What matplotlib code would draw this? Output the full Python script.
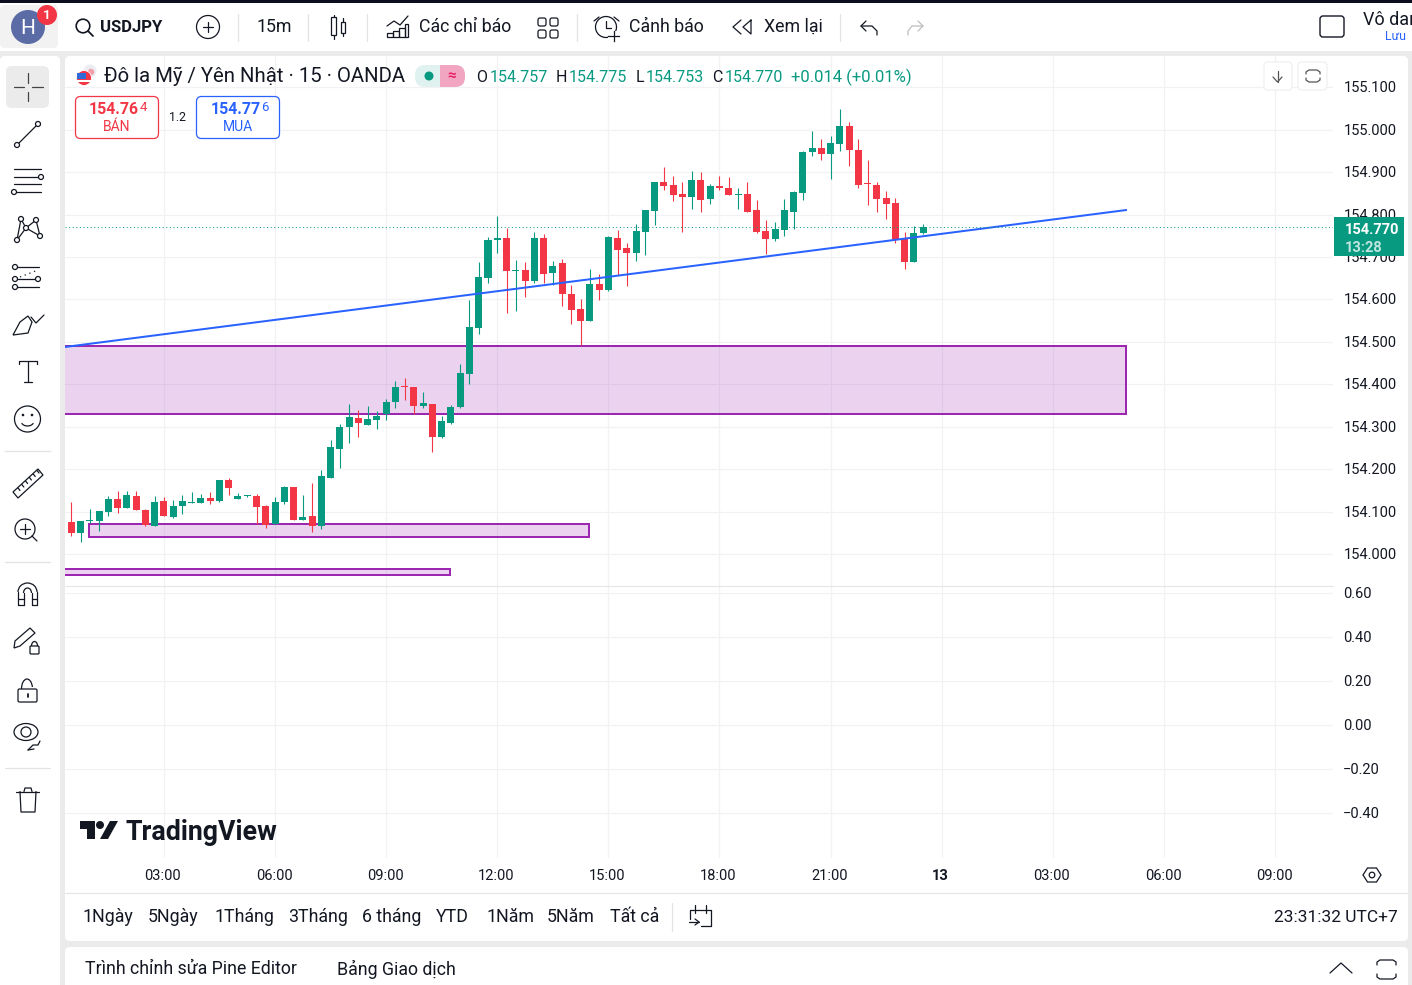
import matplotlib
matplotlib.use("Agg")
import matplotlib.pyplot as plt
from matplotlib.patches import Rectangle, FancyBboxPatch, Circle, Polygon, Ellipse, Arc
from matplotlib.transforms import Affine2D

plt.rcParams["font.family"] = ["Roboto", "DejaVu Sans"]

# Nến 15 phút USDJPY
opens = [154.076, 154.050, 154.078, 154.078, 154.099, 154.130, 154.109, 154.137, 154.104, 154.066,
         154.125, 154.087, 154.113, 154.120, 154.120, 154.132, 154.125, 154.175, 154.130, 154.137,
         154.137, 154.113, 154.071, 154.123, 154.158, 154.080, 154.090, 154.066, 154.179, 154.248,
         154.299, 154.321, 154.304, 154.316, 154.330, 154.358, 154.396, 154.394, 154.349, 154.354,
         154.276, 154.309, 154.347, 154.424, 154.533, 154.651, 154.740, 154.745, 154.667, 154.669,
         154.644, 154.745, 154.662, 154.686, 154.613, 154.578, 154.549, 154.636, 154.622, 154.745,
         154.721, 154.710, 154.759, 154.809, 154.877, 154.870, 154.849, 154.842, 154.882, 154.837,
         154.867, 154.863, 154.846, 154.849, 154.811, 154.761, 154.743, 154.764, 154.806, 154.851,
         154.948, 154.957, 154.943, 154.966, 155.009, 154.952, 154.875, 154.870, 154.839, 154.827,
         154.745, 154.688, 154.757]
highs = [154.123, 154.078, 154.106, 154.101, 154.137, 154.149, 154.149, 154.149, 154.106, 154.137,
         154.134, 154.127, 154.139, 154.146, 154.142, 154.146, 154.175, 154.179, 154.144, 154.139,
         154.142, 154.116, 154.134, 154.160, 154.158, 154.139, 154.167, 154.198, 154.269, 154.307,
         154.354, 154.339, 154.349, 154.337, 154.365, 154.408, 154.415, 154.394, 154.382, 154.354,
         154.325, 154.351, 154.448, 154.599, 154.688, 154.747, 154.797, 154.768, 154.693, 154.688,
         154.759, 154.754, 154.691, 154.695, 154.634, 154.601, 154.672, 154.660, 154.750, 154.764,
         154.733, 154.778, 154.811, 154.877, 154.912, 154.891, 154.877, 154.903, 154.900, 154.872,
         154.891, 154.889, 154.863, 154.877, 154.834, 154.787, 154.783, 154.837, 154.856, 154.950,
         154.997, 154.978, 154.985, 155.049, 155.018, 154.978, 154.929, 154.877, 154.856, 154.839,
         154.759, 154.773, 154.778]
lows = [154.043, 154.029, 154.072, 154.055, 154.090, 154.097, 154.109, 154.104, 154.066, 154.066,
        154.090, 154.085, 154.094, 154.120, 154.120, 154.118, 154.123, 154.139, 154.130, 154.134,
        154.071, 154.061, 154.071, 154.118, 154.080, 154.080, 154.052, 154.059, 154.179, 154.203,
        154.262, 154.276, 154.304, 154.295, 154.316, 154.344, 154.363, 154.330, 154.344, 154.240,
        154.274, 154.307, 154.344, 154.401, 154.519, 154.639, 154.710, 154.568, 154.573, 154.606,
        154.639, 154.639, 154.634, 154.585, 154.542, 154.493, 154.549, 154.599, 154.620, 154.658,
        154.632, 154.691, 154.705, 154.776, 154.858, 154.832, 154.759, 154.813, 154.806, 154.825,
        154.858, 154.846, 154.813, 154.806, 154.757, 154.707, 154.738, 154.750, 154.766, 154.834,
        154.938, 154.929, 154.884, 154.950, 154.915, 154.863, 154.823, 154.806, 154.790, 154.733,
        154.672, 154.688, 154.754]
closes = [154.050, 154.078, 154.080, 154.101, 154.130, 154.109, 154.139, 154.104, 154.068, 154.123,
          154.090, 154.113, 154.125, 154.123, 154.132, 154.125, 154.175, 154.156, 154.137, 154.139,
          154.111, 154.068, 154.123, 154.158, 154.080, 154.087, 154.066, 154.184, 154.252, 154.299,
          154.323, 154.309, 154.318, 154.325, 154.358, 154.394, 154.394, 154.349, 154.356, 154.276,
          154.314, 154.347, 154.427, 154.535, 154.653, 154.740, 154.745, 154.667, 154.669, 154.644,
          154.745, 154.660, 154.679, 154.613, 154.575, 154.549, 154.636, 154.622, 154.747, 154.717,
          154.710, 154.761, 154.811, 154.877, 154.867, 154.846, 154.842, 154.882, 154.834, 154.867,
          154.863, 154.846, 154.849, 154.806, 154.759, 154.743, 154.766, 154.811, 154.853, 154.948,
          154.957, 154.943, 154.969, 155.009, 154.952, 154.870, 154.872, 154.837, 154.825, 154.740,
          154.688, 154.757, 154.771]

# Vùng và đường vẽ (giá, chỉ số nến)
zone_big = [-3, 113.9, 154.330, 154.490]
zone_small = [1.86, 55.9, 154.040, 154.071]
zone_thin = [-3, 40.9, 153.951, 153.965]
trend_x = [-0.68, 114.0]
trend_y = [154.488, 154.811]
last_price = 154.770

price_ticks = [154.0, 154.1, 154.2, 154.3, 154.4, 154.5, 154.6, 154.7, 154.8, 154.9, 155.0, 155.1]
volume_ticks = [0.6, 0.4, 0.2, 0.0, -0.2, -0.4]
time_pos = [10, 22, 34, 46, 58, 70, 82, 94, 106, 118, 130]
time_labels = ["03:00", "06:00", "09:00", "12:00", "15:00", "18:00", "21:00", "13", "03:00", "06:00", "09:00"]

ranges = ["1Ngày", "5Ngày", "1Tháng", "3Tháng", "6 tháng", "YTD", "1Năm", "5Năm", "Tất cả"]
range_x = [83, 148, 214, 288, 362, 436, 487, 547, 610]

GREEN = "#089981"
RED = "#F23645"
BLUE = "#2962FF"
PURPLE = "#9C27B0"
GRID = "#F2F2F4"
INK = "#131722"
W, H = 1412, 985
LW1 = 0.72  # 1 px

fig = plt.figure(figsize=(W / 100, H / 100), dpi=100, facecolor="#EBEBEB")


def px_axes(l, t, r, b, z):
    return fig.add_axes([l / W, 1 - b / H, (r - l) / W, (b - t) / H], zorder=z)


def nudge(labels, dx, dy):
    # dịch nhãn theo pixel
    for lab in labels:
        lab.set_transform(lab.get_transform() + Affine2D().translate(dx, dy))


# nền các khung
bg = px_axes(0, 0, W, H, 0)
bg.set_xlim(0, W)
bg.set_ylim(H, 0)
bg.axis("off")


def panel(ax, l, t, r, b, color="white", rad=5, ec="none", lw=0, z=1):
    p = FancyBboxPatch((l + rad, t + rad), r - l - 2 * rad, b - t - 2 * rad,
                       boxstyle=f"round,pad={rad},rounding_size={rad}", fc=color, ec=ec, lw=lw, zorder=z)
    ax.add_patch(p)


bg.add_patch(Rectangle((0, 3), W, 48, fc="white", ec="none"))
bg.add_patch(Rectangle((0, 0), W, 3, fc="#0B0E1F", ec="none"))
panel(bg, 0, 56, 60, 1000)
panel(bg, 65, 56, 1408, 941)
panel(bg, 65, 947, 1408, 1000)

# khung giá
ax = px_axes(65, 56, 1333, 586, 2)
ax.patch.set_alpha(0)
x0 = (65 - 71.3) / 9.26
x1 = (1333 - 71.3) / 9.26
ax.set_xlim(x0, x1)
ax.set_ylim(154.8 - (586 - 214.6) / 424.3, 154.8 + (214.6 - 56) / 424.3)

for z in (zone_big, zone_small, zone_thin):
    ax.add_patch(Rectangle((z[0], z[2]), z[1] - z[0], z[3] - z[2], fc=(0.612, 0.153, 0.69, 0.2),
                           ec=PURPLE, lw=1.44, zorder=2))

for i in range(len(opens)):
    col = GREEN if closes[i] >= opens[i] else RED
    ax.vlines(i, lows[i], highs[i], color=col, lw=LW1 * 1.1, zorder=3)
    ax.bar(i, abs(closes[i] - opens[i]), bottom=min(opens[i], closes[i]), width=0.756, color=col, lw=0, zorder=3)

ax.plot(trend_x, trend_y, color=BLUE, lw=1.44, zorder=4, solid_capstyle="butt")
ax.axhline(last_price, color=GREEN, lw=LW1, ls=(0, (1, 2.6)), zorder=4)

ax.set_yticks(price_ticks)
ax.set_yticklabels([f"{t:.3f}" for t in price_ticks], fontsize=10.5, color=INK, va="center")
ax.yaxis.tick_right()
ax.set_xticks(time_pos)
ax.tick_params(axis="y", length=0, pad=7.8)
ax.tick_params(axis="x", length=0, labelbottom=False)
ax.grid(True, color=GRID, lw=LW1 * 1.3, zorder=0)
for s in ax.spines.values():
    s.set_visible(False)
nudge(ax.get_yticklabels(), 0, -1)

# khung dưới
ax2 = px_axes(65, 586, 1333, 858, 2)
ax2.patch.set_alpha(0)
ax2.set_xlim(x0, x1)
ax2.set_ylim(-0.4 - (858 - 812.5) / 220, 0.6 + (592.5 - 586) / 220)
ax2.set_yticks(volume_ticks)
ax2.set_yticklabels([f"{t:.2f}".replace("-", "\u2212") for t in volume_ticks], fontsize=10.5, color=INK, va="center")
ax2.yaxis.tick_right()
ax2.set_xticks(time_pos)
ax2.set_xticklabels(time_labels, fontsize=10.5, color=INK)
ax2.get_xticklabels()[time_labels.index("13")].set_fontweight("bold")
ax2.tick_params(axis="y", length=0, pad=7.2)
ax2.tick_params(axis="x", length=0, pad=7.6)
ax2.grid(True, color=GRID, lw=LW1 * 1.3, zorder=0)
for s in ax2.spines.values():
    s.set_visible(False)
nudge(ax2.get_yticklabels(), 0, -1.5)
nudge(ax2.get_xticklabels(), -1, 0)

# giao diện phía trên
ui = px_axes(0, 0, W, H, 5)
ui.patch.set_alpha(0)
ui.set_xlim(0, W)
ui.set_ylim(H, 0)
ui.axis("off")


def txt(x, y, s, size=13, color=INK, ha="left", weight="normal", **kw):
    ui.text(x, y + 2, s, fontsize=size, color=color, ha=ha, va="center", fontweight=weight, **kw)


def ln(xs, ys, color=INK, lw=0.9, **kw):
    ui.plot(xs, ys, color=color, lw=lw, solid_capstyle="round", zorder=5, **kw)


def ring(x, y, r, ec=INK, lw=0.9, fc="white"):
    ui.add_patch(Circle((x, y), r, fc=fc, ec=ec, lw=lw, zorder=6))


def box(l, t, r, b, ec=INK, lw=0.9):
    ui.add_patch(Rectangle((l, t), r - l, b - t, fc="none", ec=ec, lw=lw))


def rbox(l, t, r, b, ec=INK, lw=0.9, rad=3, fc="none"):
    panel(ui, l, t, r, b, color=fc, rad=rad, ec=ec, lw=lw, z=3)


# đường phân cách
ln([65, 1333], [586, 586], color="#E6E6E8", lw=0.8)
ln([65, 1408], [892.5, 892.5], color="#E6E6E8", lw=0.9)
for x, t, b in [(238, 14, 41), (308, 14, 41), (367, 14, 41), (577, 14, 41), (840, 14, 41), (672, 903, 931)]:
    ln([x, x], [t, b], color="#E3E3E3", lw=0.9)
for y in (451, 562, 768):
    ln([5, 50], [y, y], color="#E3E3E3", lw=0.9)

# thanh công cụ trên
panel(ui, 0, 5, 58, 48, color="#F2F2F2", rad=5, z=2)
ui.add_patch(Circle((28, 27), 17, fc="#5B6BA5", ec="none", zorder=3))
ui.text(28, 28, "H", fontsize=15, color="white", ha="center", va="center", zorder=7)
ui.add_patch(Circle((47, 15), 10, fc="#F23645", ec="none", zorder=6))
ui.text(47, 15.5, "1", fontsize=9.5, color="white", ha="center", va="center", zorder=7, fontweight="bold")
ring(83, 26, 6.8, lw=1.2, fc="none")
ln([88, 93], [31, 36], lw=1.3)
txt(100, 25, "USDJPY", 12.0, weight="bold")
ring(208, 27, 11.5, lw=0.9, fc="none")
ln([203, 213], [27, 27])
ln([208, 208], [22, 32])
txt(257, 25, "15m", 12.8)
box(331, 17, 336, 35)
ln([333.5, 333.5], [15, 17])
ln([333.5, 333.5], [35, 39])
box(340.5, 22, 345, 33)
ln([342.7, 342.7], [18, 22])
ln([342.7, 342.7], [33, 36])
ln([387, 394, 400, 408], [26, 21, 25, 16])
for l, t in [(387, 33), (393, 31), (399, 28)]:
    box(l, t, l + 6, 37)
box(405, 24, 408, 37)
txt(419, 25, "Các chỉ báo", 12.8)
for l, t in [(538, 18), (550, 18), (538, 30), (550, 30)]:
    rbox(l, t, l + 8, t + 8, rad=2)
ring(606, 27, 10.5, fc="none")
ln([606, 606, 611], [21, 28, 28])
ln([594, 599], [21, 17])
ln([614, 619], [17, 21])
ui.add_patch(Rectangle((608, 31), 11, 11, fc="white", ec="none", zorder=6))
ui.plot([613.5, 613.5], [31, 41], color=INK, lw=0.9, zorder=7)
ui.plot([608, 619], [36, 36], color=INK, lw=0.9, zorder=7)
txt(629, 25, "Cảnh báo", 12.8)
ln([741, 733, 741], [20, 27, 34])
ln([751, 743, 751, 751], [20, 27, 34, 20])
txt(764, 25, "Xem lại", 12.8)
ln([866, 861, 866], [21, 26, 31])
ln([861, 872, 877, 877], [26, 26, 31, 35])
ln([918, 923, 918], [21, 26, 31], color="#BDBDBD")
ln([923, 912, 908, 908], [26, 26, 31, 35], color="#BDBDBD")
rbox(1320, 16, 1344, 37, lw=1.0, rad=3)
txt(1363, 18, "Vô danh", 13, clip_on=True)
txt(1385, 34.5, "Lưu", 8.8, color=BLUE)

# thanh công cụ trái
panel(ui, 6, 66, 49, 108, color="#EBEBEB", rad=6, z=2)
ln([14, 24], [87, 87], color="#444444")
ln([32, 43], [87, 87], color="#444444")
ln([28, 28], [73, 83], color="#444444")
ln([28, 28], [92, 101], color="#444444")
ln([17, 38], [145, 124])
ring(17, 145, 2.5)
ring(38, 124, 2.5)
for y in (169, 176.5, 184, 192):
    ln([14, 41], [y, y])
ring(41, 177, 2.5)
ring(14, 192, 2.5)
nodes = [(17, 240), (21, 219), (26, 228), (36, 220), (40, 236)]
ln([n[0] for n in nodes] + [26, 17], [n[1] for n in nodes] + [228, 240])
for n in nodes:
    ring(n[0], n[1], 2.5)
for y in (267, 279, 287):
    ln([15, 39], [y, y])
ln([20, 38], [277, 270], ls=(0, (1, 3)))
for x, y in [(15, 267), (15, 279), (38, 279), (15, 287)]:
    ring(x, y, 2.5)
ui.add_patch(Polygon([(13, 335), (20, 322), (28, 316), (32, 322), (28, 333)], fc="none", ec=INK, lw=0.9))
ln([31, 36, 44], [317, 323, 315])
ln([19, 19, 37, 37], [364, 361, 361, 364])
ln([28, 28], [361, 382])
ln([24, 32], [382, 382])
ring(27.5, 419, 13, fc="none")
ui.add_patch(Circle((23, 415), 1.3, fc=INK, ec="none"))
ui.add_patch(Circle((32, 415), 1.3, fc=INK, ec="none"))
ui.add_patch(Arc((27.5, 421), 13, 10, theta1=20, theta2=160, ec=INK, lw=0.9))
ui.add_patch(Polygon([(13, 492), (38, 469), (43, 475), (18, 498)], fc="none", ec=INK, lw=0.9))
for t in range(6):
    x, y = 18 + t * 3.8, 488 - t * 3.5
    ln([x, x + 2], [y, y + 2.5])
ring(25, 529, 10, fc="none")
ln([20, 30], [529, 529])
ln([25, 25], [524, 534])
ln([32, 37], [536, 541])
ln([18, 18], [592, 605])
ln([37, 37], [592, 605])
ui.add_patch(Arc((27.5, 592), 19, 18, theta1=180, theta2=360, ec=INK, lw=0.9))
ui.add_patch(Arc((27.5, 593), 8, 10, theta1=180, theta2=360, ec=INK, lw=0.9))
ln([23.5, 23.5], [593, 605])
ln([31.5, 31.5], [593, 605])
ln([18, 23.5], [605, 605])
ln([31.5, 37], [605, 605])
ln([18, 23.5], [599, 599])
ln([31.5, 37], [599, 599])
ui.add_patch(Polygon([(14, 648), (15, 641), (30, 628), (35, 633), (20, 646)], fc="none", ec=INK, lw=0.9))
rbox(30, 646, 39, 654, rad=1)
ui.add_patch(Arc((34.5, 646), 6, 9, theta1=180, theta2=360, ec=INK, lw=0.9))
rbox(18, 689, 37, 702, rad=1.5)
ui.add_patch(Arc((27, 689), 11, 20, theta1=180, theta2=340, ec=INK, lw=0.9))
ln([27.5, 27.5], [694, 697], lw=1.3)
ui.add_patch(Ellipse((26, 732), 24, 17, fc="none", ec=INK, lw=0.9))
ring(26, 732, 5, fc="none")
ln([28, 33, 38, 40], [750, 745, 745, 741])
ln([28, 34], [750, 749])
ln([16, 39], [791.5, 791.5])
ln([24, 25, 31, 32], [791.5, 788, 788, 791.5])
ln([20, 21, 35, 36], [791.5, 812, 812, 791.5])

# chú giải
ui.add_patch(Circle((90, 71), 6.5, fc="#ECECF3", ec="none", zorder=3))
ui.add_patch(Circle((91, 72), 3.2, fc="#F2A0A8", ec="none", zorder=3))
ui.add_patch(Circle((84, 78), 7.5, fc="#F23645", ec="white", lw=0.6, zorder=4))
ui.add_patch(Rectangle((77, 73), 9, 6, fc="#2F6BD8", ec="none", zorder=5))
ui.add_patch(Rectangle((77, 80), 14, 1.6, fc="white", ec="none", zorder=5))
txt(104, 74.5, "Đô la Mỹ / Yên Nhật · 15 · OANDA", 14.7)
panel(ui, 415, 65, 465, 87, color="#DFF2EF", rad=10, z=2)
ui.add_patch(Rectangle((440, 65), 14, 22, fc="#F2A5C0", ec="none", zorder=3))
panel(ui, 445, 65, 465, 87, color="#F2A5C0", rad=10, z=3)
ui.add_patch(Circle((429, 76), 4.5, fc=GREEN, ec="none", zorder=4))
ui.text(452, 76, "≈", fontsize=11, color="#E91E63", ha="center", va="center", zorder=5, fontweight="bold")
for x, lab, vx, val in [(476, "O", 490, "154.757"), (556, "H", 569, "154.775"),
                        (636, "L", 646, "154.753"), (712, "C", 725, "154.770")]:
    txt(x, 75, lab, 11.5)
    txt(vx, 75, val, 11.5, color=GREEN)
txt(791, 75, "+0.014 (+0.01%)", 12, color=GREEN)

rbox(75.5, 96.5, 158.5, 138.5, ec=RED, lw=0.9, rad=5, fc="white")
rbox(196.5, 96.5, 279.5, 138.5, ec=BLUE, lw=0.9, rad=5, fc="white")
txt(89, 107, "154.76", 11.4, color=RED, weight="bold", zorder=7)
txt(139.5, 105.5, "4", 9.5, color=RED, zorder=7)
txt(117, 125, "BÁN", 10, color=RED, ha="center", zorder=7)
txt(211, 107, "154.77", 11.4, color=BLUE, weight="bold", zorder=7)
txt(261.5, 105.5, "6", 9.5, color=BLUE, zorder=7)
txt(238, 125, "MUA", 10, color=BLUE, ha="center", zorder=7)
txt(178, 115.5, "1.2", 8.8, ha="center")

rbox(1264, 62, 1292, 90, ec="#F0F0F0", lw=0.9, rad=4, fc="white")
rbox(1298, 62, 1327, 90, ec="#F0F0F0", lw=0.9, rad=4, fc="white")
ln([1277.5, 1277.5], [71, 82], color="#555555")
ln([1273, 1277.5, 1282], [77, 82, 77], color="#555555")
ln([1306, 1306, 1309, 1317, 1320, 1320], [74, 72, 70, 70, 72, 74], color="#555555")
ln([1306, 1306, 1309, 1317, 1320, 1320], [78, 80, 82, 82, 80, 78], color="#555555")

# nhãn giá
ui.add_patch(Rectangle((1334, 217), 70, 39, fc=GREEN, ec="none", zorder=6))
ui.text(1345, 229.5, "154.770", fontsize=10.5, color="white", fontweight="bold", va="center", zorder=7)
ui.text(1345, 247.5, "13:28", fontsize=10.5, color="#BFE6DF", fontweight="bold", va="center", zorder=7)

# logo
ui.add_patch(Polygon([(80, 821), (95, 821), (95, 839), (87, 839), (87, 829), (80, 829)], fc=INK, ec="none"))
ui.add_patch(Circle((100, 825), 4, fc=INK, ec="none"))
ui.add_patch(Polygon([(110, 821), (118, 821), (108, 839), (100, 839)], fc=INK, ec="none"))
txt(126, 830, "TradingView", 19.3, weight="bold")

ui.add_patch(Polygon([(1363, 875), (1367.5, 868), (1376.5, 868), (1381, 875), (1376.5, 882), (1367.5, 882)],
                     fc="none", ec=INK, lw=0.9))
ring(1372, 875, 2.8, fc="none")

# thanh dưới
for x, r in zip(range_x, ranges):
    txt(x, 915, r, 12.8)
ln([690, 690], [910, 919])
ln([711, 711, 701], [910, 926, 926])
ln([690, 711], [910, 910])
ln([695, 695], [905, 913])
ln([706, 706], [905, 913])
ln([689, 699], [922, 922])
ln([695, 699, 695], [919, 922, 925])
txt(1398, 916, "23:31:32 UTC+7", 12.5, ha="right")
txt(85, 967, "Trình chỉnh sửa Pine Editor", 12.8)
txt(337, 967, "Bảng Giao dịch", 12.8)
ln([1330, 1341, 1352], [973, 963, 973])
ln([1377, 1377, 1380, 1393, 1396, 1396], [965, 962, 960, 960, 962, 965])
ln([1377, 1377, 1380, 1393, 1396, 1396], [974, 977, 979, 979, 977, 974])

fig.savefig("out.png", dpi=100, facecolor=fig.get_facecolor())
